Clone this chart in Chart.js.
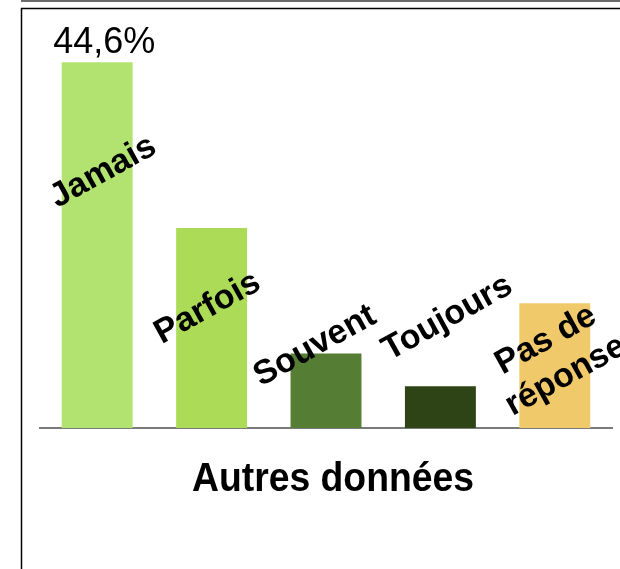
<!DOCTYPE html>
<html>
<head>
<meta charset="utf-8">
<script src="https://cdn.jsdelivr.net/npm/chart.js@4.4.1/dist/chart.umd.min.js"></script>
<style>
  html, body { margin: 0; padding: 0; background: #fff; }
  #wrap { width: 620px; height: 569px; position: relative; }
</style>
</head>
<body>
<div id="wrap"><canvas id="c" width="620" height="569"></canvas></div>
<script>
// ---- data ----
const categories = ['Jamais', 'Parfois', 'Souvent', 'Toujours', ['Pas de', 'réponse']];
const values = [44.6, 24.4, 9.1, 5.1, 15.2];
const valueLabels = ['44,6%', '', '', '', ''];
const barColors = ['#b2e270', '#acdc57', '#567d34', '#2f4416', '#f0c96a'];
const axisTitle = 'Autres données';

// label placement (styling): offsets of label centre from bar centre x / baseline y
const labelOffsets = [[6, -256], [-4, -120], [-11, -82], [7, -110], [1, -70]];

const FONT = '"Liberation Sans", Arial, sans-serif';

const framePlugin = {
  id: 'frame',
  beforeDraw(chart) {
    const ctx = chart.ctx;
    ctx.save();
    ctx.fillStyle = '#ffffff';
    ctx.fillRect(0, 0, chart.width, chart.height);
    ctx.strokeStyle = '#6b6b6b';
    ctx.lineWidth = 2;
    ctx.beginPath();
    ctx.moveTo(21, 1);
    ctx.lineTo(chart.width, 1);
    ctx.stroke();
    ctx.strokeStyle = '#000000';
    ctx.lineWidth = 1.5;
    ctx.beginPath();
    ctx.moveTo(21.5, chart.height);
    ctx.lineTo(21.5, 8.5);
    ctx.lineTo(chart.width, 8.5);
    ctx.stroke();
    ctx.restore();
  }
};

const labelPlugin = {
  id: 'catLabels',
  afterDatasetsDraw(chart) {
    const ctx = chart.ctx;
    const meta = chart.getDatasetMeta(0);
    const yBase = chart.scales.y.getPixelForValue(0);
    const area = chart.chartArea;
    ctx.save();
    ctx.fillStyle = '#000';
    meta.data.forEach((bar, i) => {
      // value label
      if (valueLabels[i]) {
        ctx.font = '36px ' + FONT;
        ctx.textAlign = 'center';
        ctx.textBaseline = 'alphabetic';
        ctx.fillText(valueLabels[i], bar.x + 7, bar.y - 9);
      }
      // rotated category label
      const lines = Array.isArray(categories[i]) ? categories[i] : [categories[i]];
      const cx = bar.x + labelOffsets[i][0];
      const cy = yBase + labelOffsets[i][1];
      ctx.save();
      ctx.translate(cx, cy);
      ctx.rotate(-29 * Math.PI / 180);
      ctx.font = 'bold 34px ' + FONT;
      ctx.textAlign = 'center';
      ctx.textBaseline = 'middle';
      const lh = 41;
      lines.forEach((ln, k) => {
        ctx.fillText(ln, 0, (k - (lines.length - 1) / 2) * lh);
      });
      ctx.restore();
    });
    // axis title
    ctx.save();
    ctx.translate((area.left + area.right) / 2 + 7, yBase + 63);
    ctx.scale(0.91, 1);
    ctx.font = 'bold 41px ' + FONT;
    ctx.textAlign = 'center';
    ctx.textBaseline = 'alphabetic';
    ctx.fillText(axisTitle, 0, 0);
    ctx.restore();
    ctx.restore();
  }
};

new Chart(document.getElementById('c'), {
  type: 'bar',
  data: {
    labels: categories,
    datasets: [{
      data: values,
      backgroundColor: barColors,
      borderWidth: 0,
      categoryPercentage: 1.0,
      barPercentage: 0.62
    }]
  },
  options: {
    responsive: false,
    animation: false,
    devicePixelRatio: 1,
    layout: { padding: { left: 40, right: 8, top: 18, bottom: 141 } },
    plugins: { legend: { display: false }, tooltip: { enabled: false } },
    scales: {
      y: { display: false, min: 0, max: 50 },
      x: {
        grid: { display: false, drawTicks: false },
        border: { display: true, color: '#7a7a7a', width: 2 },
        ticks: { display: false },
        title: { display: false, text: axisTitle }
      }
    }
  },
  plugins: [framePlugin, labelPlugin]
});
</script>
</body>
</html>
